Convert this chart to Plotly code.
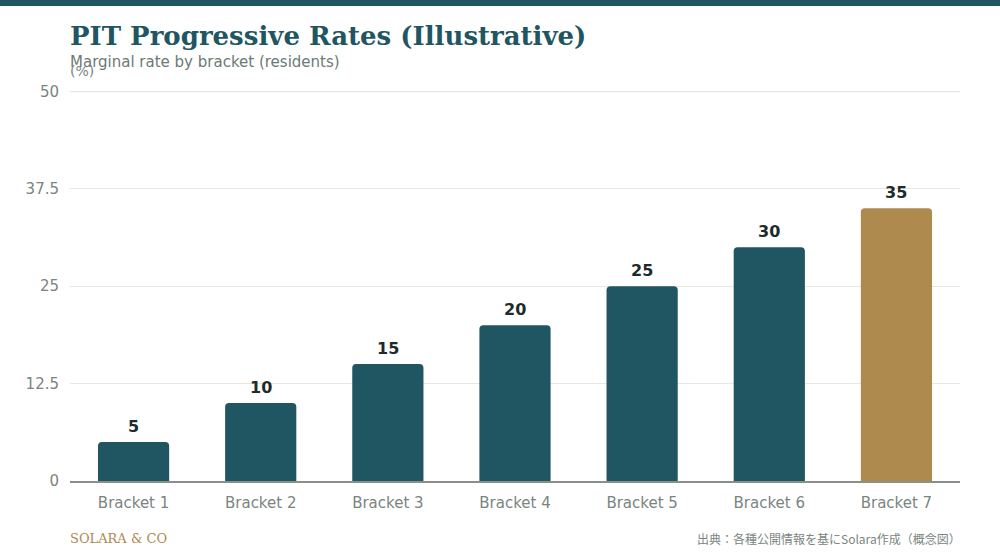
import plotly.graph_objects as go

categories = ["Bracket 1", "Bracket 2", "Bracket 3", "Bracket 4", "Bracket 5", "Bracket 6", "Bracket 7"]
rates = [5, 10, 15, 20, 25, 30, 35]
y_ticks = [0, 12.5, 25, 37.5, 50]
y_tick_labels = ["0", "12.5", "25", "37.5", "50"]

TEAL = "#1F5662"
GOLD = "#AF8A4F"
GRID = "#ebe6dd"
colors = [TEAL] * (len(rates) - 1) + [GOLD]

fig = go.Figure(go.Bar(
    x=categories, y=rates,
    marker=dict(color=colors, line=dict(width=0)),
    width=0.56,
    hoverinfo="skip",
))

value_labels = [
    dict(x=c, y=v, xref="x", yref="y", text=f"<b>{v}</b>", showarrow=False,
         yanchor="bottom", yshift=4,
         font=dict(family="DejaVu Sans", size=16, color="#1e2b2b"))
    for c, v in zip(categories, rates)
]

fig.update_layout(
    width=1000, height=560,
    margin=dict(l=70, r=40, t=91, b=79),
    paper_bgcolor="white", plot_bgcolor="white",
    barcornerradius=4,
    showlegend=False,
    font=dict(family="DejaVu Sans", color="#7a8580"),
    xaxis=dict(
        showgrid=False, ticks="", showline=True, linecolor="#8a9088", linewidth=2,
        tickfont=dict(size=15, color="#7a8580"), ticklabelstandoff=7,
    ),
    yaxis=dict(
        range=[0, 50.05], tickvals=y_ticks, ticktext=y_tick_labels,
        showgrid=True, gridcolor=GRID, gridwidth=1,
        zeroline=False, showline=False, ticks="",
        tickfont=dict(size=15, color="#7a8580"),
        ticklabelstandoff=10,
    ),
    shapes=[
        dict(type="rect", xref="paper", yref="paper",
             x0=-0.1, x1=1.1, y0=1.2179, y1=1.24,
             line=dict(width=0), fillcolor=TEAL),
        dict(type="line", xref="paper", yref="y", x0=0, x1=1,
             y0=y_ticks[-1], y1=y_ticks[-1], layer="below",
             line=dict(color=GRID, width=1.5)),
    ],
    annotations=value_labels + [
        dict(text="<b>PIT Progressive Rates (Illustrative)</b>", xref="paper", yref="paper",
             x=0, y=1, xanchor="left", yanchor="bottom", yshift=38, xshift=-2,
             showarrow=False, font=dict(family="DejaVu Serif", size=26, color=TEAL)),
        dict(text="Marginal rate by bracket (residents)", xref="paper", yref="paper",
             x=0, y=1, xanchor="left", yanchor="bottom", yshift=18, xshift=-2,
             showarrow=False, font=dict(family="DejaVu Sans", size=15, color="#6b7a76")),
        dict(text="(%)", xref="paper", yref="paper",
             x=0, y=1, xanchor="left", yanchor="bottom", yshift=10, xshift=-2,
             showarrow=False, font=dict(family="DejaVu Sans", size=14, color="#7a8580")),
        dict(text="SOLARA &amp; CO", xref="paper", yref="paper",
             x=0, y=0, xanchor="left", yanchor="top", yshift=-48, xshift=-2,
             showarrow=False, font=dict(family="DejaVu Serif", size=13, color=GOLD)),
        dict(text="出典：各種公開情報を基にSolara作成（概念図）", xref="paper", yref="paper",
             x=1, y=0, xanchor="right", yanchor="top", yshift=-47, xshift=3,
             showarrow=False, font=dict(family="Noto Sans CJK JP", size=12, color="#7a8580")),
    ],
)

fig.write_html("out.html", config={"displayModeBar": False},
               post_script="document.body.style.margin='0';")
